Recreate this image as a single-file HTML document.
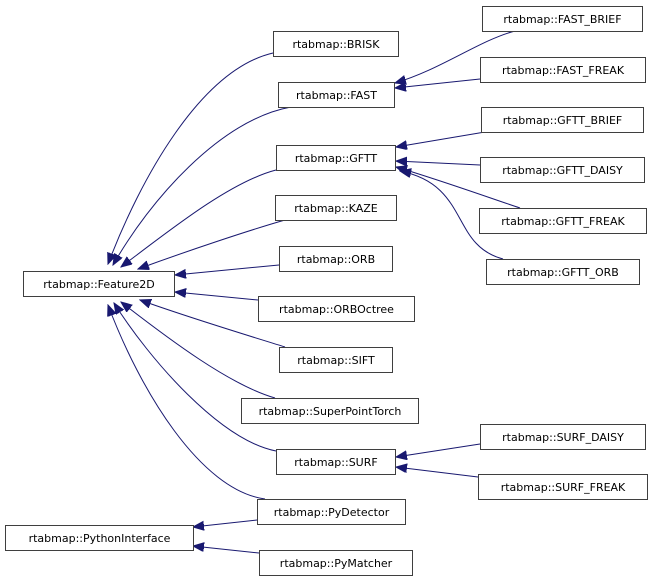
<!DOCTYPE html>
<html><head><meta charset="utf-8"><style>
html,body{margin:0;padding:0;background:#fff;}
svg{display:block;}
text{font-family:"DejaVu Sans","Liberation Sans",sans-serif;font-size:11px;fill:#000;}
rect{fill:#fff;stroke:#3f3f3f;stroke-width:1;}
path.e{fill:none;stroke:#191970;stroke-width:1;}
</style></head><body>
<svg width="652" height="581" viewBox="0 0 652 581" xmlns="http://www.w3.org/2000/svg">
<defs>
<marker id="a" markerUnits="userSpaceOnUse" markerWidth="12" markerHeight="10" refX="11" refY="4.5" orient="auto-start-reverse">
<path d="M0,0 L11,4.5 L0,9 z" fill="#191970" stroke="#191970"/>
</marker>
</defs>
<!-- edges -->
<g>
<path class="e" marker-start="url(#a)" d="M108,264 C140,180 200,70 273,53"/>
<path class="e" marker-start="url(#a)" d="M113,265 C150,200 220,120 291,107"/>
<path class="e" marker-start="url(#a)" d="M121,267 C170,230 230,182 276,170"/>
<path class="e" marker-start="url(#a)" d="M138,269 C190,250 250,230 285,220"/>
<path class="e" marker-start="url(#a)" d="M175,275 L279,265"/>
<path class="e" marker-start="url(#a)" d="M175,292 L258,300"/>
<path class="e" marker-start="url(#a)" d="M140,300 C190,318 250,336 285,347"/>
<path class="e" marker-start="url(#a)" d="M121,302 C170,340 230,385 275,398"/>
<path class="e" marker-start="url(#a)" d="M114,303 C150,360 220,440 276,451"/>
<path class="e" marker-start="url(#a)" d="M108,305 C140,390 200,490 265,499"/>
<path class="e" marker-start="url(#a)" d="M193,527 L257,520"/>
<path class="e" marker-start="url(#a)" d="M193,546 L259,553"/>
<path class="e" marker-start="url(#a)" d="M395,83 C440,70 480,40 515,31"/>
<path class="e" marker-start="url(#a)" d="M395,88 L480,79"/>
<path class="e" marker-start="url(#a)" d="M396,147 L485,132"/>
<path class="e" marker-start="url(#a)" d="M396,161 L480,165"/>
<path class="e" marker-start="url(#a)" d="M396,167 C440,180 490,198 520,208"/>
<path class="e" marker-start="url(#a)" d="M400,171 C470,185 450,245 503,259"/>
<path class="e" marker-start="url(#a)" d="M396,457 L480,444"/>
<path class="e" marker-start="url(#a)" d="M396,467 L478,477"/>
</g>
<!-- nodes -->
<g>
<rect x="273.5" y="31.5" width="125" height="25"/><text x="336" y="48" text-anchor="middle">rtabmap::BRISK</text>
<rect x="278.5" y="82.5" width="116" height="25"/><text x="336.5" y="99" text-anchor="middle">rtabmap::FAST</text>
<rect x="276.5" y="145.5" width="119" height="25"/><text x="336" y="162" text-anchor="middle">rtabmap::GFTT</text>
<rect x="275.5" y="195.5" width="121" height="25"/><text x="336" y="212" text-anchor="middle">rtabmap::KAZE</text>
<rect x="279.5" y="246.5" width="113" height="25"/><text x="336" y="263" text-anchor="middle">rtabmap::ORB</text>
<rect x="23.5" y="271.5" width="151" height="25"/><text x="99" y="288" text-anchor="middle">rtabmap::Feature2D</text>
<rect x="258.5" y="296.5" width="156" height="25"/><text x="336.5" y="313" text-anchor="middle">rtabmap::ORBOctree</text>
<rect x="279.5" y="347.5" width="113" height="25"/><text x="336" y="364" text-anchor="middle">rtabmap::SIFT</text>
<rect x="241.5" y="398.5" width="177" height="25"/><text x="330" y="415" text-anchor="middle">rtabmap::SuperPointTorch</text>
<rect x="276.5" y="449.5" width="119" height="25"/><text x="336" y="466" text-anchor="middle">rtabmap::SURF</text>
<rect x="257.5" y="499.5" width="148" height="25"/><text x="331.5" y="516" text-anchor="middle">rtabmap::PyDetector</text>
<rect x="5.5" y="525.5" width="188" height="25"/><text x="99.5" y="542" text-anchor="middle">rtabmap::PythonInterface</text>
<rect x="259.5" y="550.5" width="153" height="25"/><text x="336" y="567" text-anchor="middle">rtabmap::PyMatcher</text>
<rect x="482.5" y="6.5" width="160" height="25"/><text x="562.5" y="23" text-anchor="middle">rtabmap::FAST_BRIEF</text>
<rect x="480.5" y="57.5" width="165" height="25"/><text x="563" y="74" text-anchor="middle">rtabmap::FAST_FREAK</text>
<rect x="481.5" y="107.5" width="162" height="25"/><text x="562.5" y="124" text-anchor="middle">rtabmap::GFTT_BRIEF</text>
<rect x="480.5" y="157.5" width="164" height="25"/><text x="562.5" y="174" text-anchor="middle">rtabmap::GFTT_DAISY</text>
<rect x="479.5" y="208.5" width="167" height="25"/><text x="563" y="225" text-anchor="middle">rtabmap::GFTT_FREAK</text>
<rect x="486.5" y="259.5" width="153" height="25"/><text x="563" y="276" text-anchor="middle">rtabmap::GFTT_ORB</text>
<rect x="480.5" y="424.5" width="165" height="25"/><text x="563" y="441" text-anchor="middle">rtabmap::SURF_DAISY</text>
<rect x="478.5" y="474.5" width="169" height="25"/><text x="563" y="491" text-anchor="middle">rtabmap::SURF_FREAK</text>
</g>
</svg>
</body></html>
